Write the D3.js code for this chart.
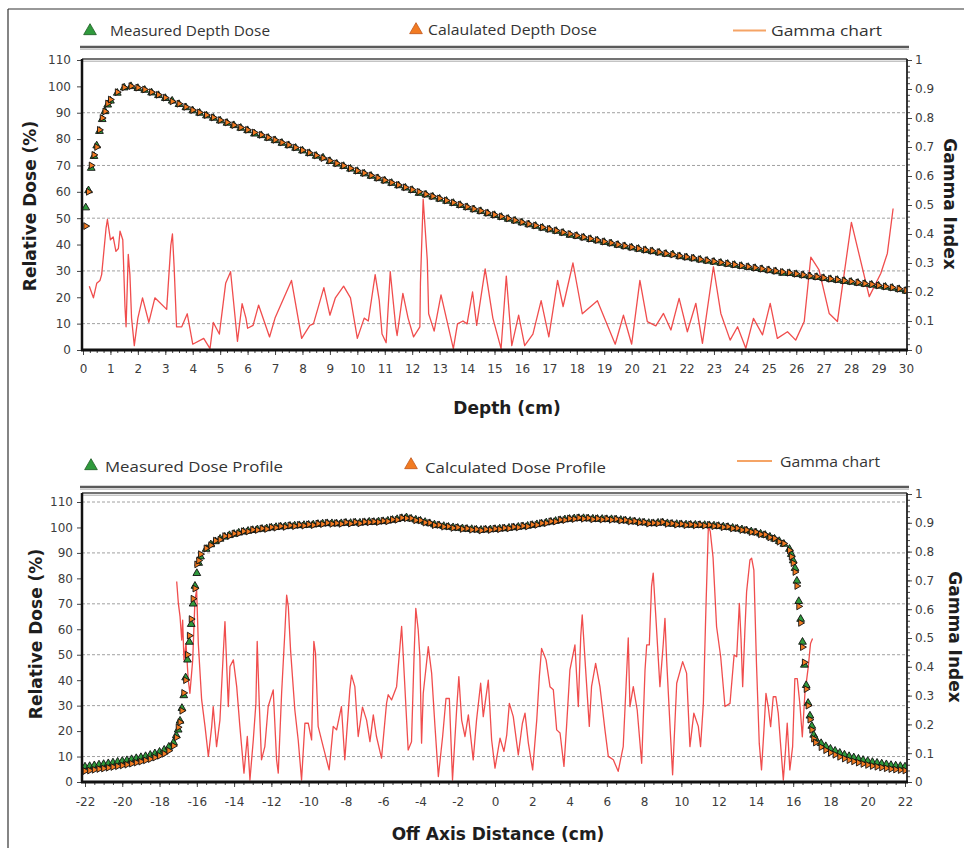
<!DOCTYPE html>
<html>
<head>
<meta charset="utf-8">
<script src="https://cdn.jsdelivr.net/npm/d3@7"></script>
<style>
  body { margin: 0; background: #fff; }
  svg { display: block; }
</style>
</head>
<body>
<script>
// ---- depth dose (top panel) ----
const depthCm = [0.1,0.2,0.3,0.4,0.5,0.6,0.7,0.8,0.9,1,
  1.25,1.5,1.75,2,2.25,2.5,2.75,3,3.25,3.5,3.75,4,4.25,4.5,4.75,5,5.25,5.5,5.75,6,
  6.25,6.5,6.75,7,7.25,7.5,7.75,8,8.25,8.5,8.75,9,9.25,9.5,9.75,10,10.25,10.5,10.75,11,
  11.25,11.5,11.75,12,12.25,12.5,12.75,13,13.25,13.5,13.75,14,14.25,14.5,14.75,15,
  15.25,15.5,15.75,16,16.25,16.5,16.75,17,17.25,17.5,17.75,18,18.25,18.5,18.75,19,
  19.25,19.5,19.75,20,20.25,20.5,20.75,21,21.25,21.5,21.75,22,22.25,22.5,22.75,23,
  23.25,23.5,23.75,24,24.25,24.5,24.75,25,25.25,25.5,25.75,26,26.25,26.5,26.75,27,
  27.25,27.5,27.75,28,28.25,28.5,28.75,29,29.25,29.5,29.75,30];
const depthMeasured = [54,60.5,69,73.5,77.5,83,87.5,90.5,93,94.5,
  97.5,99.5,100,99.3, 98.6,97.6,96.6,95.5, 94.5,93.2,92.0,90.8, 89.9,88.9,88.0,87.0,
  86.1,85.2,84.2,83.3, 82.0,81.4,80.4,79.5, 78.5,77.6,76.6,75.6, 74.6,73.6,72.9,71.6,
  70.6,69.7,68.7,67.8, 66.9,66.0,65.1,64.2, 63.3,62.4,61.5,60.6, 59.5,58.9,58.1,57.3,
  56.5,55.7,54.9,54.1, 53.3,52.6,51.8,51.1, 50.4,49.7,49.0,48.3, 47.6,47.0,46.3,45.7,
  45.1,44.4,43.6,43.2, 42.6,42.0,41.5,40.9, 40.4,39.8,39.3,38.8, 38.3,37.8,37.4,36.9,
  36.4,36.2,35.5,35.1, 34.7,34.2,33.8,33.4, 33.0,32.6,32.2,31.8, 31.4,31.0,30.6,30.2,
  29.8,29.2,29.1,28.7, 28.3,27.9,27.6,27.2, 26.8,26.5,26.1,25.8, 25.4,25.0,24.7,24.3,
  23.9,23.5,23.0,22.4];
const depthCalculated = [47,60,70,74,77,83.5,88,90.5,93.5,95,
  97.8,99.6,100.1,99.5, 98.8,97.8,96.8,95.7, 94.3,93.4,92.2,91.0, 90.1,89.1,88.2,87.2,
  86.3,85.3,84.4,83.5, 82.5,81.6,80.6,79.7, 78.7,77.8,76.8,75.8, 74.8,73.8,72.8,71.8,
  70.8,69.9,68.9,68.0, 67.1,66.2,65.3,64.4, 63.5,62.6,61.7,60.8, 60.0,59.1,58.3,57.5,
  56.7,55.9,55.1,54.3, 53.5,52.8,52.0,51.3, 50.6,49.9,49.2,48.5, 47.8,47.2,46.5,45.9,
  45.3,44.6,44.0,43.4, 42.8,42.2,41.7,41.1, 40.6,40.0,39.5,39.0, 38.5,38.0,37.6,37.1,
  36.6,36.2,35.7,35.3, 34.9,34.4,34.0,33.6, 33.2,32.8,32.4,32.0, 31.6,31.2,30.8,30.4,
  30.0,29.6,29.3,28.9, 28.5,28.1,27.8,27.4, 27.0,26.7,26.3,26.0, 25.6,25.2,24.9,24.5,
  24.1,23.7,23.2,22.6];
const depthGammaCm = [0.23,0.38,0.5,0.62,0.68,0.84,0.89,1.0,1.1,1.2,1.29,1.35,1.45,1.53,1.57,
  1.65,1.71,1.77,1.87,2.0,2.17,2.4,2.62,3.05,3.2,3.26,3.32,3.41,3.6,3.8,4.0,4.4,4.63,4.75,
  4.97,5.2,5.38,5.63,5.8,5.94,6.0,6.2,6.4,6.8,7.0,7.6,7.97,8.27,8.4,8.78,9.0,9.2,9.5,9.75,
  10.0,10.25,10.4,10.65,10.8,10.9,11.05,11.2,11.4,11.45,11.66,11.85,12.05,12.28,12.3,12.4,
  12.55,12.6,12.8,13.05,13.5,13.65,13.85,14.0,14.2,14.35,14.66,14.94,15.24,15.43,15.63,
  15.88,16.1,16.4,16.7,16.98,17.3,17.5,17.86,18.2,18.75,19.4,19.7,20.0,20.3,20.57,20.88,
  21.16,21.43,21.73,22.03,22.34,22.58,22.98,23.25,23.59,23.86,24.16,24.44,24.77,25.05,
  25.31,25.68,25.98,26.29,26.53,26.83,27.2,27.5,28.01,28.66,29.08,29.32,29.53];
const depthGamma = [0.22,0.18,0.23,0.24,0.26,0.42,0.45,0.38,0.39,0.34,0.35,0.41,0.38,0.15,0.08,
  0.33,0.26,0.11,0.015,0.11,0.18,0.095,0.18,0.14,0.36,0.40,0.29,0.08,0.08,0.125,0.02,0.04,0.005,0.095,
  0.055,0.23,0.27,0.03,0.16,0.11,0.075,0.085,0.155,0.045,0.11,0.24,0.04,0.085,0.09,0.215,0.12,0.18,0.22,0.18,
  0.04,0.11,0.10,0.26,0.17,0.055,0.025,0.27,0.08,0.05,0.195,0.11,0.045,0.08,0.23,0.52,
  0.31,0.125,0.065,0.19,0.005,0.09,0.10,0.09,0.2,0.085,0.28,0.11,0.005,0.255,0.015,
  0.12,0.015,0.055,0.17,0.045,0.24,0.15,0.30,0.125,0.17,0.02,0.12,0.02,0.24,0.098,0.083,
  0.126,0.069,0.178,0.063,0.161,0.023,0.287,0.126,0.034,0.08,0.006,0.109,0.052,0.161,
  0.04,0.063,0.034,0.098,0.32,0.276,0.126,0.098,0.44,0.184,0.264,0.333,0.488];

// ---- dose profile (bottom panel) ----
const profileCm = [-22,-21.75,-21.5,-21.25,-21,-20.75,-20.5,-20.25,-20,-19.75,-19.5,-19.25,-19,
  -18.75,-18.5,-18.25,-18,-17.75,-17.5,-17.25,
  -17.1,-17,-16.9,-16.8,-16.7,-16.6,-16.5,-16.4,-16.3,-16.2,-16.1,-16,-15.9,-15.8,
  -15.5,-15.25,-15,-14.75,-14.5,-14.25,-14,-13.75,-13.5,-13.25,-13,-12.75,-12.5,-12.25,-12,
  -11.75,-11.5,-11.25,-11,-10.75,-10.5,-10.25,-10,-9.75,-9.5,-9.25,-9,-8.75,-8.5,-8.25,-8,
  -7.75,-7.5,-7.25,-7,-6.75,-6.5,-6.25,-6,-5.75,-5.5,-5.25,-5,-4.75,-4.5,-4.25,-4,
  -3.75,-3.5,-3.25,-3,-2.75,-2.5,-2.25,-2,-1.75,-1.5,-1.25,-1,-0.75,-0.5,-0.25,0,
  0.25,0.5,0.75,1,1.25,1.5,1.75,2,2.25,2.5,2.75,3,3.25,3.5,3.75,4,4.25,4.5,4.75,5,
  5.25,5.5,5.75,6,6.25,6.5,6.75,7,7.25,7.5,7.75,8,8.25,8.5,8.75,9,9.25,9.5,9.75,10,
  10.25,10.5,10.75,11,11.25,11.5,11.75,12,12.25,12.5,12.75,13,13.25,13.5,13.75,14,
  14.25,14.5,14.75,15,15.25,15.5,
  15.8,15.9,16,16.1,16.2,16.3,16.4,16.5,16.6,16.7,16.8,16.9,17,17.1,17.2,
  17.5,17.75,18,18.25,18.5,18.75,19,19.25,19.5,19.75,20,20.25,20.5,20.75,21,21.25,21.5,21.75,22];
const profileMeasured = [6.0,6.2,6.5,6.8,7.0,7.3,7.6,7.9,8.2,8.5,8.9,9.3,9.7,
  10.1,10.6,11.2,11.8,12.6,13.8,15.5,
  18.3,20.5,24,29,34,41,48,55,62,70,77,82,86,88.5,
  91.5,93.3,94.5, 95.5,96.3,96.9,97.4, 97.9,98.3,98.6,98.9, 99.2,99.4,99.6,99.9,
  100.1,100.3,100.4,100.6, 100.7,100.8,100.9,101.0, 101.1,101.3,101.5,101.6, 101.6,101.5,101.6,101.8,
  101.7,101.9,101.8,102.0, 102.2,102.1,102.3,102.4, 102.6,102.9,103.2,103.6, 103.9,103.4,103.0,102.6,
  102.1,101.6,101.1,100.8, 100.5,100.2,100.0,99.8, 99.6,99.4,99.3,99.1, 99.0,99.1,99.2,99.3,
  99.5,99.6,99.8,100.0, 100.2,100.4,100.6,100.9, 101.2,101.5,101.9,102.2, 102.5,102.8,103.1,103.3, 103.5,103.6,103.6,103.5,
  103.4,103.3,103.3,103.2, 103.2,103.1,102.9,102.7, 102.5,102.3,102.1,101.9, 101.7,101.6,101.8,101.9, 101.6,101.4,101.3,101.2,
  101.1,101.0,101.0,100.9, 100.9,100.8,100.7,100.5, 100.3,100.1,99.8,99.5, 99.2,98.8,98.4,98.0,
  97.5,97.0,96.3,95.5, 94.6,93.5,
  91.5,89.5,87,84,79,71,64,55,46,38,31,26,22,18.5,17,
  15.2,14.0,13.0,12.2,11.4,10.7,10.1,9.6,9.1,8.6,8.2,7.8,7.5,7.2,6.9,6.6,6.4,6.2,6.0];
const profileCalculated = [4.3,4.5,4.8,5.1,5.3,5.6,5.9,6.2,6.5,6.8,7.2,7.6,8.0,
  8.5,9.0,9.6,10.3,11.1,12.3,14.2,
  17.5,21.5,23.5,28,35,40,50,57.5,64,72,76,85.5,87,89.5,
  91.8,93.0,94.8, 95.2,96.6,96.7,97.6, 97.7,98.5,98.4,99.1, 99.0,99.6,99.4,100.1,
  99.9,100.5,100.2,100.8, 100.5,101.0,100.7,101.2, 100.9,101.5,101.3,101.8, 101.4,101.7,101.4,102.0,
  101.5,102.1,101.6,102.2, 102.0,102.3,102.1,102.6, 102.4,103.1,103.0,103.8, 103.6,103.6,102.8,102.8,
  101.9,101.8,100.9,101.0, 100.3,100.4,99.8,100.0, 99.4,99.6,99.1,99.3, 98.8,99.3,99.0,99.5,
  99.3,99.8,99.6,100.2, 100.0,100.6,100.4,101.1, 101.0,101.7,101.7,102.4, 102.3,103.0,102.9,103.5, 103.3,103.8,103.4,103.7,
  103.2,103.5,103.1,103.4, 103.0,103.3,102.7,102.9, 102.3,102.5,101.9,102.1, 101.5,101.8,101.6,102.1, 101.4,101.6,101.1,101.4,
  100.9,101.2,100.8,101.1, 100.7,101.0,100.5,100.7, 100.1,100.3,99.6,99.7, 99.0,99.0,98.2,98.2,
  97.3,97.2,96.1,95.7, 94.4,93.7,
  91.0,88.5,86,82.5,77,69,62.5,53,47,36.5,30,24.5,20.5,17,15.5,
  13.7,12.5,11.5,10.7,9.9,9.2,8.6,8.1,7.6,7.1,6.7,6.3,6.0,5.7,5.4,5.1,4.9,4.7,4.5];
const profileGammaCm = [-17.08,-16.99,-16.9,-16.81,-16.76,-16.69,-16.58,-16.46,-16.37,-16.22,
  -16.1,-16.01,-15.92,-15.74,-15.56,-15.38,-15.2,-15.12,-14.94,-14.76,-14.58,-14.49,-14.31,
  -14.22,-14.04,-13.86,-13.69,-13.47,-13.29,-13.15,-12.97,-12.83,-12.76,-12.65,-12.53,-12.35,
  -12.17,-11.9,-11.72,-11.63,-11.45,-11.27,-11.18,-11.09,-10.97,-10.74,-10.56,-10.38,-10.2,
  -10.02,-9.84,-9.72,-9.63,-9.49,-9.22,-8.9,-8.68,-8.5,-8.24,-8.06,-7.93,-7.79,-7.7,-7.52,
  -7.34,-7.11,-6.89,-6.71,-6.53,-6.36,-6.09,-5.82,-5.73,-5.55,-5.28,-5.1,-5.01,-4.92,-4.66,
  -4.48,-4.35,-4.25,-4.12,-4.03,-3.94,-3.85,-3.58,-3.4,-3.22,-3.04,-2.81,-2.63,-2.45,-2.28,
  -2.06,-1.94,-1.79,-1.61,-1.43,-1.17,-0.99,-0.77,-0.63,-0.36,-0.18,0,0.27,0.48,0.63,0.77,
  0.98,1.25,1.47,1.61,1.79,2.02,2.24,2.38,2.5,2.74,2.95,3.13,3.31,3.49,3.7,3.84,4.02,4.29,
  4.47,4.6,4.68,4.83,5.06,5.18,5.4,5.63,5.9,6.08,6.35,6.61,6.88,7.03,7.15,7.24,7.42,7.63,
  7.87,8.05,8.14,8.28,8.4,8.49,8.64,8.85,9.03,9.12,9.21,9.42,9.53,9.75,10.07,10.28,10.46,
  10.67,10.91,11.03,11.18,11.32,11.45,11.55,11.7,11.89,12.11,12.34,12.61,12.83,12.97,13.11,
  13.2,13.29,13.41,13.5,13.68,13.77,13.89,14.03,14.18,14.3,14.43,14.54,14.66,14.79,14.93,
  15.07,15.2,15.32,15.47,15.59,15.68,15.82,15.97,16.09,16.22,16.36,16.49,16.63,16.81,16.93,17.04];
const profileGamma = [0.696,0.62,0.574,0.493,0.562,0.424,0.481,0.354,0.308,0.424,
  0.632,0.667,0.481,0.285,0.193,0.089,0.193,0.262,0.123,0.215,0.447,0.557,0.262,
  0.401,0.424,0.331,0.193,0.031,0.158,0.007,0.146,0.273,0.488,0.273,0.077,0.123,
  0.262,0.32,0.077,0.031,0.308,0.528,0.649,0.609,0.458,0.25,0.146,0.007,0.204,
  0.204,0.146,0.488,0.447,0.193,0.123,0.042,0.193,0.181,0.262,0.077,0.193,0.32,0.371,0.331,
  0.158,0.26,0.215,0.14,0.233,0.158,0.083,0.273,0.303,0.285,0.331,0.47,0.54,0.435,0.111,
  0.14,0.424,0.603,0.528,0.435,0.135,0.308,0.47,0.378,0.193,0.019,0.158,0.29,0.29,0.007,
  0.25,0.366,0.215,0.158,0.233,0.077,0.215,0.343,0.227,0.354,0.146,0.048,0.152,0.106,0.164,0.273,
  0.227,0.094,0.204,0.239,0.135,0.042,0.215,0.366,0.464,0.424,0.331,0.32,0.181,0.17,0.054,0.193,0.389,0.476,
  0.262,0.505,0.58,0.424,0.193,0.331,0.412,0.331,0.181,0.089,0.077,0.037,0.123,0.331,0.5,0.262,0.331,0.25,
  0.065,0.389,0.476,0.476,0.679,0.725,0.563,0.331,0.481,0.568,0.424,0.158,0.025,0.343,0.418,0.378,0.123,
  0.239,0.193,0.123,0.273,0.609,0.89,0.87,0.78,0.539,0.435,0.262,0.273,0.441,0.435,0.62,
  0.5,0.331,0.528,0.66,0.771,0.777,0.736,0.412,0.134,0.042,0.18,0.308,0.262,0.192,0.296,
  0.296,0.238,0.134,0.007,0.111,0.204,0.042,0.123,0.359,0.359,0.27,0.157,0.308,0.4,0.481,0.498];

// ---- ticks ----
const doseTicks = [0,10,20,30,40,50,60,70,80,90,100,110];
const gammaTicks = [0,0.1,0.2,0.3,0.4,0.5,0.6,0.7,0.8,0.9,1];
const gammaTickLabels = ['0','0.1','0.2','0.3','0.4','0.5','0.6','0.7','0.8','0.9','1'];
const depthTicks = [0,1,2,3,4,5,6,7,8,9,10,11,12,13,14,15,16,17,18,19,20,21,22,23,24,25,26,27,28,29,30];
const offAxisTicks = [-22,-20,-18,-16,-14,-12,-10,-8,-6,-4,-2,0,2,4,6,8,10,12,14,16,18,20,22];

const W = 964, H = 848;
const GREEN = '#2f9a3c', ORANGE = '#f27b22', RED = '#ee3a3a';

const svg = d3.select('body').append('svg').attr('width', W).attr('height', H)
  .style('font-family', '"DejaVu Sans", Verdana, sans-serif');

// outer frame (left + top)
svg.append('line').attr('x1', 8).attr('x2', 8).attr('y1', 9).attr('y2', H)
  .attr('stroke', '#333').attr('stroke-width', 1.2);
svg.append('line').attr('x1', 8).attr('x2', W).attr('y1', 9).attr('y2', 9)
  .attr('stroke', '#333').attr('stroke-width', 1.2);

const triUp = d3.symbol().type(d3.symbolTriangle);

const drawLegend = (y, items) => {
  const g = svg.append('g');
  items.forEach((it) => {
    if (it.kind === 'line') {
      g.append('line').attr('x1', it.mx).attr('x2', it.mx2).attr('y1', it.my).attr('y2', it.my)
        .attr('stroke', '#f5a466').attr('stroke-width', 2);
    } else {
      g.append('path').attr('d', triUp.size(70)())
        .attr('transform', `translate(${it.mx},${it.my})`)
        .attr('fill', it.fill).attr('stroke', it.stroke).attr('stroke-width', 0.8);
    }
    g.append('text').attr('x', it.tx).attr('y', it.ty).text(it.label)
      .attr('textLength', it.tw).attr('lengthAdjust', 'spacingAndGlyphs')
      .style('font-family', '"Open Sans", sans-serif').style('font-size', '14px').attr('fill', '#333');
  });
  // separator under legend
  g.append('line').attr('x1', 80).attr('x2', 909).attr('y1', y).attr('y2', y)
    .attr('stroke', '#5a5a5a').attr('stroke-width', 2.5);
  g.append('line').attr('x1', 80).attr('x2', 909).attr('y1', y + 2.5).attr('y2', y + 2.5)
    .attr('stroke', '#c8c8c8').attr('stroke-width', 1);
};

const drawPanel = (cfg) => {
  const { x, yL, yR, box } = cfg;
  const g = svg.append('g');

  // dashed gridlines
  g.selectAll('line.grid').data(cfg.grid).enter().append('line')
    .attr('class', 'grid')
    .attr('x1', box.x0).attr('x2', box.x1)
    .attr('y1', (d) => yL(d)).attr('y2', (d) => yL(d))
    .attr('stroke', '#a0a0a0').attr('stroke-width', 1).attr('stroke-dasharray', '3,2');

  // axes
  const styleAxis = (sel) => {
    sel.select('.domain').remove();
    sel.selectAll('line').attr('stroke', '#444');
    sel.selectAll('text').attr('fill', '#3c3c3c').style('font-size', '12px')
      .style('font-family', '"DejaVu Sans", Verdana, sans-serif');
  };

  g.append('g').attr('transform', `translate(0,${box.y1})`)
    .call(d3.axisBottom(x).tickValues(cfg.xMinor).tickSize(3).tickFormat(''))
    .call(styleAxis);
  g.append('g').attr('transform', `translate(0,${box.y1})`)
    .call(d3.axisBottom(x).tickValues(cfg.xTicks).tickSize(5).tickPadding(cfg.xPad).tickFormat((d) => String(d)))
    .call(styleAxis);

  g.append('g').attr('transform', `translate(${box.x0},0)`)
    .call(d3.axisLeft(yL).tickValues(doseTicks).tickSize(5).tickPadding(cfg.leftPad).tickFormat((d) => String(d)))
    .call(styleAxis);

  g.append('g').attr('transform', `translate(${box.x1},0)`)
    .call(d3.axisRight(yR).tickValues(d3.range(0, 1.001, 0.02)).tickSize(3).tickFormat(''))
    .call(styleAxis);
  g.append('g').attr('transform', `translate(${box.x1},0)`)
    .call(d3.axisRight(yR).tickValues(gammaTicks).tickSize(5).tickPadding(3)
      .tickFormat((d, i) => gammaTickLabels[i]))
    .call(styleAxis);

  // clip
  const clipId = 'clip' + cfg.id;
  svg.append('clipPath').attr('id', clipId).append('rect')
    .attr('x', box.x0).attr('y', box.y0).attr('width', box.x1 - box.x0).attr('height', box.y1 - box.y0);
  const plot = g.append('g').attr('clip-path', `url(#${clipId})`);

  // gamma line (right axis)
  const gammaPts = d3.zip(cfg.gammaX, cfg.gammaY);
  plot.append('path').datum(gammaPts)
    .attr('d', d3.line().x((d) => x(d[0])).y((d) => yR(d[1])))
    .attr('fill', 'none').attr('stroke', RED).attr('stroke-width', 1.3)
    .attr('stroke-linejoin', 'round').attr('opacity', 0.9);

  // measured markers
  const meas = d3.zip(cfg.posX, cfg.measured);
  plot.selectAll('path.meas').data(meas).enter().append('path')
    .attr('class', 'meas')
    .attr('d', triUp.size(26)())
    .attr('transform', (d) => `translate(${x(d[0])},${yL(d[1])})`)
    .attr('fill', GREEN).attr('stroke', '#111').attr('stroke-width', 0.9);

  // calculated markers
  const calc = d3.zip(cfg.posX, cfg.calculated);
  plot.selectAll('path.calc').data(calc).enter().append('path')
    .attr('class', 'calc')
    .attr('d', triUp.size(20)())
    .attr('transform', (d) => `translate(${x(d[0])},${yL(d[1])}) rotate(90)`)
    .attr('fill', ORANGE).attr('stroke', '#111').attr('stroke-width', 0.9);

  // frame
  g.append('line').attr('x1', box.x0).attr('x2', box.x1).attr('y1', box.y0 - 1).attr('y2', box.y0 - 1)
    .attr('stroke', '#444').attr('stroke-width', 1.6);
  g.append('line').attr('x1', box.x0).attr('x2', box.x1).attr('y1', box.y0 + 1.2).attr('y2', box.y0 + 1.2)
    .attr('stroke', '#aaa').attr('stroke-width', 1);
  g.append('line').attr('x1', box.x1).attr('x2', box.x1).attr('y1', box.y0 - 1).attr('y2', box.y1)
    .attr('stroke', '#222').attr('stroke-width', 1.8);
  g.append('line').attr('x1', box.x0).attr('x2', box.x0).attr('y1', box.y0 - 1).attr('y2', box.y1 + 1)
    .attr('stroke', '#111').attr('stroke-width', 2.5);
  g.append('line').attr('x1', box.x0 - 1).attr('x2', box.x1 + 1).attr('y1', box.y1).attr('y2', box.y1)
    .attr('stroke', '#111').attr('stroke-width', 3);

  // axis titles
  const title = (txt, tx, ty, rot) => {
    svg.append('text').text(txt)
      .attr('transform', `translate(${tx},${ty})${rot ? ` rotate(${rot})` : ''}`)
      .attr('text-anchor', 'middle').attr('dominant-baseline', 'central')
      .style('font-family', '"DejaVu Sans", Verdana, sans-serif')
      .style('font-weight', 'bold').style('font-size', '17px').attr('fill', '#1e1e1e');
  };
  title('Relative Dose (%)', cfg.leftTitle[0], cfg.leftTitle[1], -90);
  title('Gamma Index', cfg.rightTitle[0], cfg.rightTitle[1], 90);
  title(cfg.xTitle, cfg.xTitlePos[0], cfg.xTitlePos[1], 0);
};

// ---- top panel ----
drawLegend(47, [
  { kind: 'tri', mx: 90, my: 31, fill: GREEN, stroke: '#1d5a23', tx: 110, ty: 36, tw: 160, label: 'Measured Depth Dose' },
  { kind: 'tri', mx: 416, my: 30, fill: ORANGE, stroke: '#c0561a', tx: 428, ty: 35, tw: 169, label: 'Calaulated Depth Dose' },
  { kind: 'line', mx: 733, mx2: 766, my: 30.5, tx: 771, ty: 36, tw: 111, label: 'Gamma chart' },
]);

drawPanel({
  id: 'top',
  x: d3.scaleLinear().domain([0, 30]).range([83, 906]),
  yL: d3.scaleLinear().domain([0, 110]).range([350, 60]),
  yR: d3.scaleLinear().domain([0, 1]).range([350, 60]),
  box: { x0: 82, x1: 907, y0: 60, y1: 350 },
  grid: [10, 30, 50, 70, 90],
  xTicks: depthTicks,
  xMinor: d3.range(0, 30.001, 0.25),
  xPad: 9,
  leftPad: 6,
  posX: depthCm,
  measured: depthMeasured,
  calculated: depthCalculated,
  gammaX: depthGammaCm,
  gammaY: depthGamma,
  leftTitle: [30, 206],
  rightTitle: [950, 204],
  xTitle: 'Depth (cm)',
  xTitlePos: [507, 408],
});

// ---- bottom panel ----
drawLegend(487, [
  { kind: 'tri', mx: 91, my: 466, fill: GREEN, stroke: '#1d5a23', tx: 105, ty: 472, tw: 178, label: 'Measured Dose Profile' },
  { kind: 'tri', mx: 411, my: 465, fill: ORANGE, stroke: '#c0561a', tx: 425, ty: 473, tw: 181, label: 'Calculated Dose Profile' },
  { kind: 'line', mx: 737, mx2: 772, my: 461, tx: 780, ty: 467, tw: 100, label: 'Gamma chart' },
]);

drawPanel({
  id: 'bottom',
  x: d3.scaleLinear().domain([-22, 22]).range([85, 905]),
  yL: d3.scaleLinear().domain([0, 110]).range([782, 502]),
  yR: d3.scaleLinear().domain([0, 1]).range([782, 494]),
  box: { x0: 82, x1: 907, y0: 494, y1: 782 },
  grid: [10, 30, 50, 70, 90, 110],
  xTicks: offAxisTicks,
  xMinor: d3.range(-22, 22.001, 0.5),
  xPad: 10,
  leftPad: 4,
  posX: profileCm,
  measured: profileMeasured,
  calculated: profileCalculated,
  gammaX: profileGammaCm,
  gammaY: profileGamma,
  leftTitle: [36, 634],
  rightTitle: [955, 637],
  xTitle: 'Off Axis Distance (cm)',
  xTitlePos: [498, 834],
});
</script>
</body>
</html>
